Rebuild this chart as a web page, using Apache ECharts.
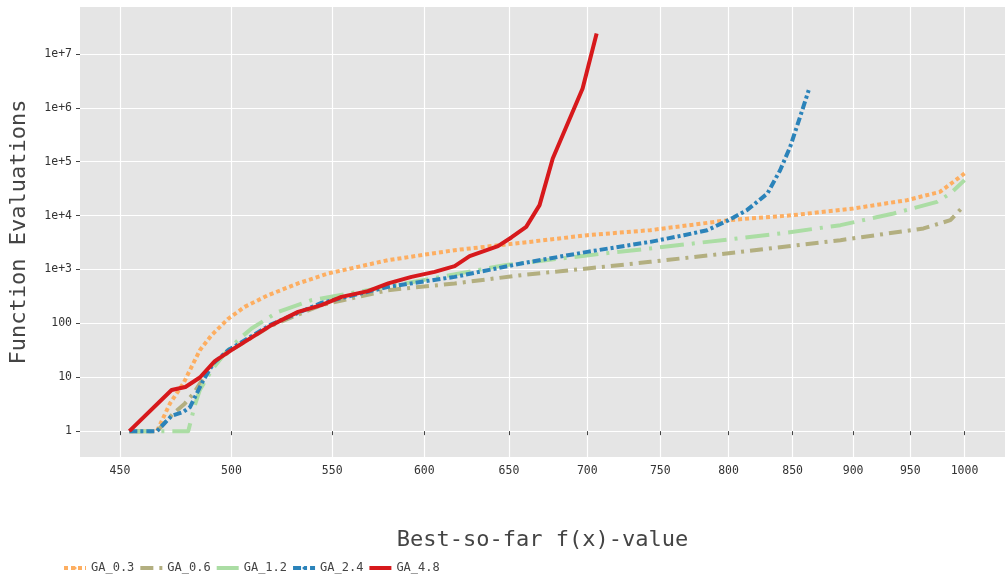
<!DOCTYPE html>
<html>
<head>
<meta charset="utf-8">
<script src="https://cdn.jsdelivr.net/npm/echarts@6/dist/echarts.min.js"></script>
<style>
  html, body { margin: 0; padding: 0; background: #fff; }
  #main { width: 1006px; height: 577px; }
</style>
</head>
<body>
<div id="main"></div>
<script>
// tick labels
var xTicks = [450, 500, 550, 600, 650, 700, 750, 800, 850, 900, 950, 1000];
var yTicks = [1, 10, 100, 1e3, 1e4, 1e5, 1e6, 1e7];

// GA_0.3
var ga03X = [454, 466, 471.8, 477.8, 481.5, 485.3, 490.7, 498.6, 506.3, 517.7, 532.5, 547.8, 579.9, 617.5, 657.6, 700, 743, 800, 851, 900, 947, 977, 1000];
var ga03Y = [1, 1, 3.27, 7.7, 15.6, 31.8, 60.4, 123, 202, 334, 550, 843, 1489, 2280, 3117, 4326, 5357, 8220, 10200, 13500, 19300, 27500, 60400];
// GA_0.6
var ga06X = [454, 466, 473.3, 478.5, 482.4, 490.7, 500, 519, 544.4, 579.9, 617.5, 657.6, 700, 743, 809.2, 889.3, 962, 986.7, 1000];
var ga06Y = [1, 1, 2.13, 3.27, 5.0, 16.7, 32, 90, 218, 413, 550, 784, 1043, 1384, 2122, 3497, 5767, 8220, 15600];
// GA_1.2
var ga12X = [454, 480, 483, 485.3, 490.7, 496.9, 504, 509.6, 522.5, 539.3, 568.9, 647.3, 711.2, 743, 784, 840.4, 889.3, 935.2, 974.3, 986.7, 1000];
var ga12Y = [1, 1, 3.04, 5.8, 13.5, 27.6, 52.5, 80.4, 163, 269, 413, 1202, 1982, 2453, 3250, 4656, 6637, 10940, 17950, 25700, 45400];
// GA_2.4
var ga24X = [454, 466, 472.5, 477.8, 480.8, 486.9, 491.5, 498.6, 519, 544.4, 579.9, 617.5, 657.6, 700, 743, 767, 784, 800, 814, 830, 840, 848, 856, 863];
var ga24Y = [1, 1, 1.92, 2.28, 2.8, 8.8, 18, 32, 95, 240, 476, 729, 1292, 2122, 3250, 4326, 5357, 8220, 12600, 25700, 69500, 188000, 678000, 2120000];
// GA_4.8
var ga48X = [454, 472.5, 478.7, 485.3, 492.2, 500, 519.3, 532.5, 544.4, 554.8, 568.9, 579.9, 592.8, 605.9, 617.5, 626.3, 643.3, 651.5, 660.7, 669.1, 677.5, 696.9, 706.2];
var ga48Y = [1, 5.8, 6.6, 9.9, 19.9, 31.8, 92.6, 163, 218, 310, 396, 550, 729, 903, 1151, 1766, 2706, 3925, 6180, 15600, 114600, 2280000, 23900000];

var log10 = function (v) { return Math.log10(v); };
var pairs = function (xs, ys) {
  return xs.map(function (x, i) { return [log10(x), log10(ys[i])]; });
};

var mono = 'DejaVu Sans Mono';

var lineSeries = function (name, xs, ys, color, dash) {
  return {
    name: name,
    type: 'line',
    data: pairs(xs, ys),
    showSymbol: false,
    symbol: 'none',
    smooth: false,
    lineStyle: { color: color, width: 4, type: dash, cap: 'butt', join: 'round' },
    itemStyle: { color: color },
    emphasis: { disabled: true },
    z: 3
  };
};

var chart = echarts.init(document.getElementById('main'), null, { renderer: 'canvas' });

chart.setOption({
  animation: false,
  backgroundColor: '#ffffff',
  grid: {
    left: 78, top: 7, right: 1, bottom: 120,
    show: true, backgroundColor: '#E5E5E5', borderWidth: 0
  },
  xAxis: {
    type: 'value',
    min: log10(433.3),
    max: log10(1039),
    name: 'Best-so-far f(x)-value',
    nameLocation: 'middle',
    nameGap: 72,
    nameTextStyle: { fontFamily: mono, fontSize: 22, color: '#444' },
    axisLine: { show: false },
    axisTick: {
      show: true, length: 4, inside: false,
      lineStyle: { color: '#444', width: 1 },
      customValues: xTicks.map(log10)
    },
    axisLabel: {
      customValues: xTicks.map(log10),
      fontFamily: mono, fontSize: 11.5, color: '#333', margin: 8,
      formatter: function (v) { return String(Math.round(Math.pow(10, v))); }
    },
    splitLine: { show: true, lineStyle: { color: '#ffffff', width: 1.2 } }
  },
  yAxis: {
    type: 'value',
    min: -0.48,
    max: 7.87,
    name: 'Function Evaluations',
    nameLocation: 'middle',
    nameGap: 50,
    nameTextStyle: { fontFamily: mono, fontSize: 22, color: '#444' },
    axisLine: { show: false },
    axisTick: {
      show: true, length: 4, inside: false,
      lineStyle: { color: '#444', width: 1 },
      customValues: yTicks.map(log10)
    },
    axisLabel: {
      customValues: yTicks.map(log10),
      fontFamily: mono, fontSize: 11.5, color: '#333', margin: 8,
      formatter: function (v) {
        var n = Math.round(v);
        return n < 3 ? String(Math.pow(10, n)) : '1e+' + n;
      }
    },
    splitLine: { show: true, lineStyle: { color: '#ffffff', width: 1.2 } }
  },
  legend: {
    left: 57,
    top: 557,
    itemWidth: 22,
    itemHeight: 4,
    itemGap: 4,
    lineStyle: { width: 4 },
    textStyle: { fontFamily: mono, fontSize: 12, color: '#444' },
    data: ['GA_0.3', 'GA_0.6', 'GA_1.2', 'GA_2.4', 'GA_4.8']
  },
  series: [
    lineSeries('GA_0.3', ga03X, ga03Y, '#FDAE61', [4, 3]),
    lineSeries('GA_0.6', ga06X, ga06Y, '#B3AF80', [13, 6, 3, 6]),
    lineSeries('GA_1.2', ga12X, ga12Y, '#ABDDA4', [24, 8, 3, 8]),
    lineSeries('GA_2.4', ga24X, ga24Y, '#2B83BA', [8, 3, 3, 3]),
    lineSeries('GA_4.8', ga48X, ga48Y, '#D7191C', 'solid')
  ]
});
</script>
</body>
</html>
